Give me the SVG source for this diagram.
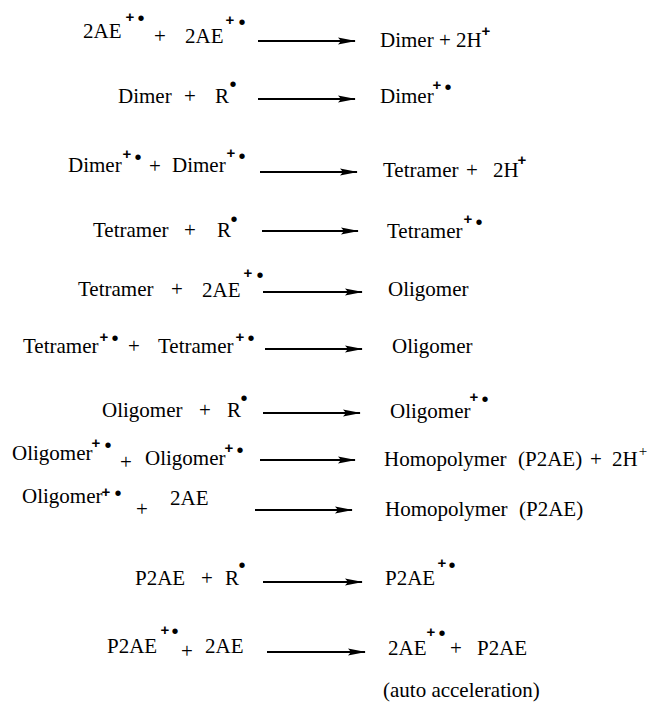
<svg xmlns="http://www.w3.org/2000/svg" width="667" height="704" viewBox="0 0 667 704">
<style>
.t{font-family:"Liberation Serif","Times New Roman",serif;font-size:21px;fill:#000}
.pl{font-family:"Liberation Serif","Times New Roman",serif;font-size:21px;fill:#000;text-anchor:middle}
.sp{font-family:"Liberation Sans",Arial,sans-serif;font-weight:bold;font-size:15px;fill:#000;text-anchor:middle}
.ss{font-family:"Liberation Serif","Times New Roman",serif;font-size:15px;fill:#000;text-anchor:middle}
.dt{font-family:"Liberation Sans",Arial,sans-serif;font-size:20px;fill:#000;text-anchor:middle}
.ar{stroke:#000;stroke-width:2;fill:none;marker-end:url(#ah)}
</style>
<defs>
<marker id="ah" markerWidth="18" markerHeight="8" refX="17" refY="4" orient="auto" markerUnits="userSpaceOnUse">
<path d="M0,0.5 L18,4 L0,7.5 L3,4 Z" fill="#000"/>
</marker>
</defs>
<rect width="667" height="704" fill="#fff"/>
<g id="connectors">
<path class="ar" d="M258,41 H355"/>
<path class="ar" d="M258,99 H355"/>
<path class="ar" d="M260,172 H357"/>
<path class="ar" d="M262,231 H358"/>
<path class="ar" d="M263,292 H362"/>
<path class="ar" d="M265,349 H362"/>
<path class="ar" d="M263,413 H360"/>
<path class="ar" d="M260,460 H355"/>
<path class="ar" d="M255,510 H352"/>
<path class="ar" d="M263,582 H362"/>
<path class="ar" d="M267,652 H365"/>
</g>
<g id="r1-left">
<text class="t" x="83" y="38">2AE</text><text class="sp" x="130" y="22">+</text><text class="dt" x="141" y="25">•</text>
<text class="pl" x="160" y="43">+</text>
<text class="t" x="185" y="43">2AE</text><text class="sp" x="230" y="25">+</text><text class="dt" x="242" y="29">•</text>
</g>
<g id="r1-right">
<text class="t" x="380" y="47">Dimer</text><text class="pl" x="445" y="47">+</text><text class="t" x="456" y="47">2H</text><text class="sp" x="486" y="36">+</text>
</g>
<g id="r2-left">
<text class="t" x="118" y="103">Dimer</text><text class="pl" x="190" y="103">+</text><text class="t" x="215" y="103">R</text><text class="dt" x="233" y="91">•</text>
</g>
<g id="r2-right">
<text class="t" x="380" y="103">Dimer</text><text class="sp" x="437" y="90">+</text><text class="dt" x="448" y="94">•</text>
</g>
<g id="r3-left">
<text class="t" x="68" y="172">Dimer</text><text class="sp" x="127" y="159">+</text><text class="dt" x="138" y="164">•</text>
<text class="pl" x="155" y="173">+</text>
<text class="t" x="172" y="172">Dimer</text><text class="sp" x="231" y="158">+</text><text class="dt" x="242" y="163">•</text>
</g>
<g id="r3-right">
<text class="t" x="383" y="177">Tetramer</text><text class="pl" x="472" y="177">+</text><text class="t" x="493" y="177">2H</text><text class="sp" x="522" y="165">+</text>
</g>
<g id="r4-left">
<text class="t" x="93" y="237">Tetramer</text><text class="pl" x="190" y="237">+</text><text class="t" x="217" y="237">R</text><text class="dt" x="234" y="226">•</text>
</g>
<g id="r4-right">
<text class="t" x="387" y="238">Tetramer</text><text class="sp" x="468" y="224">+</text><text class="dt" x="479" y="229">•</text>
</g>
<g id="r5-left">
<text class="t" x="78" y="296">Tetramer</text><text class="pl" x="177" y="296">+</text><text class="t" x="202" y="297">2AE</text><text class="sp" x="248" y="278">+</text><text class="dt" x="260" y="282">•</text>
</g>
<g id="r5-right">
<text class="t" x="388" y="296">Oligomer</text>
</g>
<g id="r6-left">
<text class="t" x="23" y="353">Tetramer</text><text class="sp" x="104" y="342">+</text><text class="dt" x="115" y="345">•</text>
<text class="pl" x="134" y="353">+</text>
<text class="t" x="158" y="353">Tetramer</text><text class="sp" x="240" y="342">+</text><text class="dt" x="251" y="345">•</text>
</g>
<g id="r6-right">
<text class="t" x="392" y="353">Oligomer</text>
</g>
<g id="r7-left">
<text class="t" x="102" y="417">Oligomer</text><text class="pl" x="205" y="417">+</text><text class="t" x="227" y="417">R</text><text class="dt" x="244" y="405">•</text>
</g>
<g id="r7-right">
<text class="t" x="390" y="418">Oligomer</text><text class="sp" x="474" y="402">+</text><text class="dt" x="485" y="406">•</text>
</g>
<g id="r8-left">
<text class="t" x="12" y="460">Oligomer</text><text class="sp" x="96" y="448">+</text><text class="dt" x="108" y="452">•</text>
<text class="pl" x="126" y="469">+</text>
<text class="t" x="145" y="465">Oligomer</text><text class="sp" x="229" y="453">+</text><text class="dt" x="240" y="457">•</text>
</g>
<g id="r8-right">
<text class="t" x="384" y="466">Homopolymer</text><text class="t" x="518" y="466">(P2AE)</text><text class="pl" x="596" y="466">+</text><text class="t" x="612" y="466">2H</text><text class="ss" x="643" y="456">+</text>
</g>
<g id="r9-left">
<text class="t" x="22" y="503">Oligomer</text><text class="sp" x="106" y="497">+</text><text class="dt" x="118" y="500">•</text>
<text class="pl" x="142" y="516">+</text>
<text class="t" x="170" y="505">2AE</text>
</g>
<g id="r9-right">
<text class="t" x="385" y="516">Homopolymer</text><text class="t" x="519" y="516">(P2AE)</text>
</g>
<g id="r10-left">
<text class="t" x="135" y="585">P2AE</text><text class="pl" x="207" y="585">+</text><text class="t" x="225" y="585">R</text><text class="dt" x="242" y="572">•</text>
</g>
<g id="r10-right">
<text class="t" x="385" y="585">P2AE</text><text class="sp" x="442" y="568">+</text><text class="dt" x="452" y="572">•</text>
</g>
<g id="r11-left">
<text class="t" x="107" y="653">P2AE</text><text class="sp" x="165" y="635">+</text><text class="dt" x="175" y="638">•</text>
<text class="pl" x="187" y="658">+</text>
<text class="t" x="205" y="653">2AE</text>
</g>
<g id="r11-right">
<text class="t" x="388" y="655">2AE</text><text class="sp" x="431" y="637">+</text><text class="dt" x="442" y="640">•</text>
<text class="pl" x="456" y="655">+</text>
<text class="t" x="477" y="655">P2AE</text>
</g>
<g id="note">
<text class="t" x="383" y="697">(auto acceleration)</text>
</g>
</svg>
